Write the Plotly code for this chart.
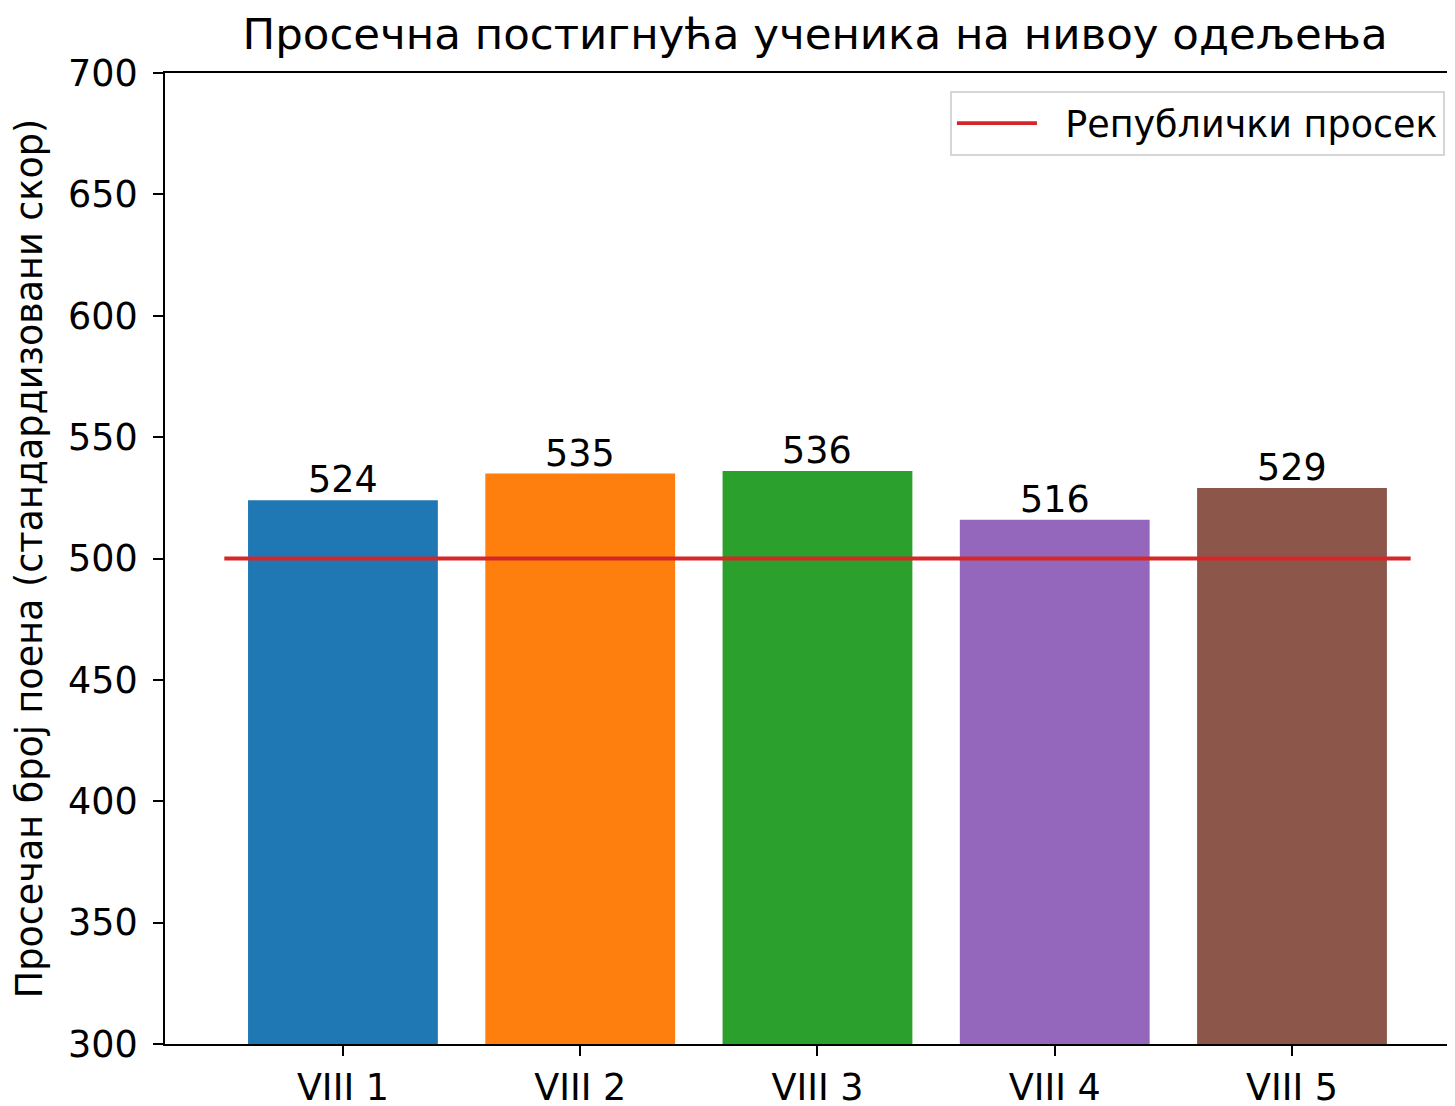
import plotly.graph_objects as go

categories = ["VIII 1", "VIII 2", "VIII 3", "VIII 4", "VIII 5"]
scores = [524, 535, 536, 516, 529]
bar_colors = ["#1f77b4", "#ff7f0e", "#2ca02c", "#9467bd", "#8c564b"]
national_avg = 500
avg_label = "Републички просек"
title = "Просечна постигнућа ученика на нивоу одељења"
y_title = "Просечан број поена (стандардизовани скор)"

xpos = list(range(len(categories)))
FONT = "DejaVu Sans"
FS = 36.5

fig = go.Figure()
fig.add_trace(go.Bar(
    x=xpos, y=scores, width=0.8,
    marker=dict(color=bar_colors, line=dict(width=0)),
    showlegend=False, hoverinfo="x+y",
))
fig.add_trace(go.Scatter(
    x=[-0.5, len(categories) - 0.5], y=[national_avg, national_avg],
    mode="lines", line=dict(color="#d62728", width=3.8),
    name="\u00a0\u00a0" + avg_label, showlegend=True,
))

for xv, v in zip(xpos, scores):
    fig.add_annotation(
        x=xv, y=v, xref="x", yref="y", text=str(v), showarrow=False,
        yanchor="bottom", xanchor="center", yshift=-3,
        font=dict(family=FONT, size=FS, color="black"),
    )

fig.update_layout(
    width=1447, height=1098,
    margin=dict(l=157, r=0, t=65, b=62, pad=0, autoexpand=False),
    paper_bgcolor="white", plot_bgcolor="white",
    font=dict(family=FONT, size=FS, color="black"),
    title=dict(text=title, x=0.5039, xref="paper", xanchor="center",
               y=1 - 26 / 1098, yanchor="middle", automargin=False,
               font=dict(family=FONT, size=43.5, color="black")),
    legend=dict(x=0.6085, xanchor="left", y=0.9815, yanchor="top",
                bgcolor="white", bordercolor="#d6d6d6", borderwidth=2,
                font=dict(family=FONT, size=FS, color="black"),
                itemwidth=80),
    showlegend=True,
)
fig.update_xaxes(
    range=[-0.75, 4.687], tickmode="array", tickvals=xpos, ticktext=categories,
    showline=True, linecolor="black", linewidth=2, mirror=True,
    ticks="outside", ticklen=10, tickwidth=2, tickcolor="black",
    ticklabelstandoff=0, automargin=False,
    showgrid=False, zeroline=False,
    tickfont=dict(family=FONT, size=FS, color="black"),
)
fig.update_yaxes(
    range=[300, 700], dtick=50, tick0=300,
    showline=True, linecolor="black", linewidth=2, mirror=False,
    ticks="outside", ticklen=10, tickwidth=2, tickcolor="black",
    ticklabelstandoff=8, automargin=False,
    showgrid=False, zeroline=False,
    tickfont=dict(family=FONT, size=FS, color="black"),
    title=dict(text=y_title, standoff=16,
               font=dict(family=FONT, size=FS, color="black")),
)

fig.write_html("out.html")
